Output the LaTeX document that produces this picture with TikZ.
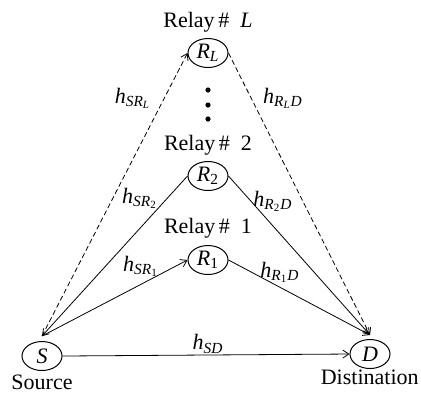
\documentclass[tikz,border=0pt]{standalone}
\usepackage{amsmath}
\usepackage{fontspec}
\setmainfont{Liberation Serif}
\usetikzlibrary{arrows.meta,positioning,shapes.geometric}
\newcommand{\vi}[1]{\textit{#1}}
\tikzset{
  relnode/.style={
    draw, ellipse, minimum width=20pt, minimum height=14.5pt, inner sep=0pt,
    line width=0.5pt, font=\fontsize{11}{13}\selectfont
  },
  titletext/.style={font=\fontsize{11}{13}\selectfont, inner sep=1pt},
  chanlabel/.style={font=\fontsize{11}{13}\selectfont, inner sep=0pt},
  link/.style={-{Straight Barb[length=3pt,width=4pt]}, line width=0.4pt},
  farlink/.style={link, dash pattern=on 2.5pt off 1.5pt}
}
\begin{document}
\begin{tikzpicture}[x=0.5pt, y=-0.5pt]
  \useasboundingbox (0,0) rectangle (421,393);
  % terminals and relays
  \node[relnode] (S) at (42,356) {$\vi{S}$};
  \node[relnode] (D) at (370,354) {$\vi{D}$};
  \node[relnode] (R1) at (208,260) {$\vi{R}_{\text{1}}$};
  \node[relnode] (R2) at (208,176) {$\vi{R}_{\text{2}}$};
  \node[relnode] (RL) at (208,53) {$\vi{R}_{\vi{L}}$};
  \node[titletext, above=1.5pt of RL] (tL) {Relay\,\#\enspace\vi{L}};
  \node[titletext, above=1.5pt of R2] (t2) {Relay\,\#\enspace 2};
  \node[titletext, above=2pt of R1] (t1) {Relay\,\#\enspace 1};
  \node[titletext, below=1pt of S] (src) {Source};
  \node[titletext, anchor=north east] (dst) at (421,368) {Distination};
  \foreach \y in {90,105,119}
    \fill (208,\y) circle (1.3pt);
  \coordinate (Stop) at ([yshift=2.5pt]S.north);
  \coordinate (Dtop) at ([yshift=2pt]D.north);
  % links
  \draw[farlink] (Stop) -- (RL.west);
  \draw[farlink] (RL.east) -- (Dtop);
  \draw[link, {Straight Barb[length=3pt,width=4pt]}-] (Stop) -- (R2.west);
  \draw[link] (R2.east) -- (Dtop);
  \draw[link] (Stop) -- (R1.west);
  \draw[link] (R1.east) -- (Dtop);
  \draw[link] (S.east) -- (D.west);
  % channel gains
  \node[chanlabel] (hSRL) at (133,98) {$\vi{h}_{\vi{SR}_{\vi{L}}}$};
  \node[chanlabel] (hRLD) at (283,98) {$\vi{h}_{\vi{R}_{\vi{L}}\vi{D}}$};
  \node[chanlabel] (hSR2) at (140,198) {$\vi{h}_{\vi{SR}_{\text{2}}}$};
  \node[chanlabel] (hR2D) at (273,201) {$\vi{h}_{\vi{R}_{\text{2}}\vi{D}}$};
  \node[chanlabel] (hSR1) at (141,266) {$\vi{h}_{\vi{SR}_{\text{1}}}$};
  \node[chanlabel] (hR1D) at (280,272) {$\vi{h}_{\vi{R}_{\text{1}}\vi{D}}$};
  \node[chanlabel] (hSD) at (208,344) {$\vi{h}_{\vi{SD}}$};
\end{tikzpicture}
\end{document}
